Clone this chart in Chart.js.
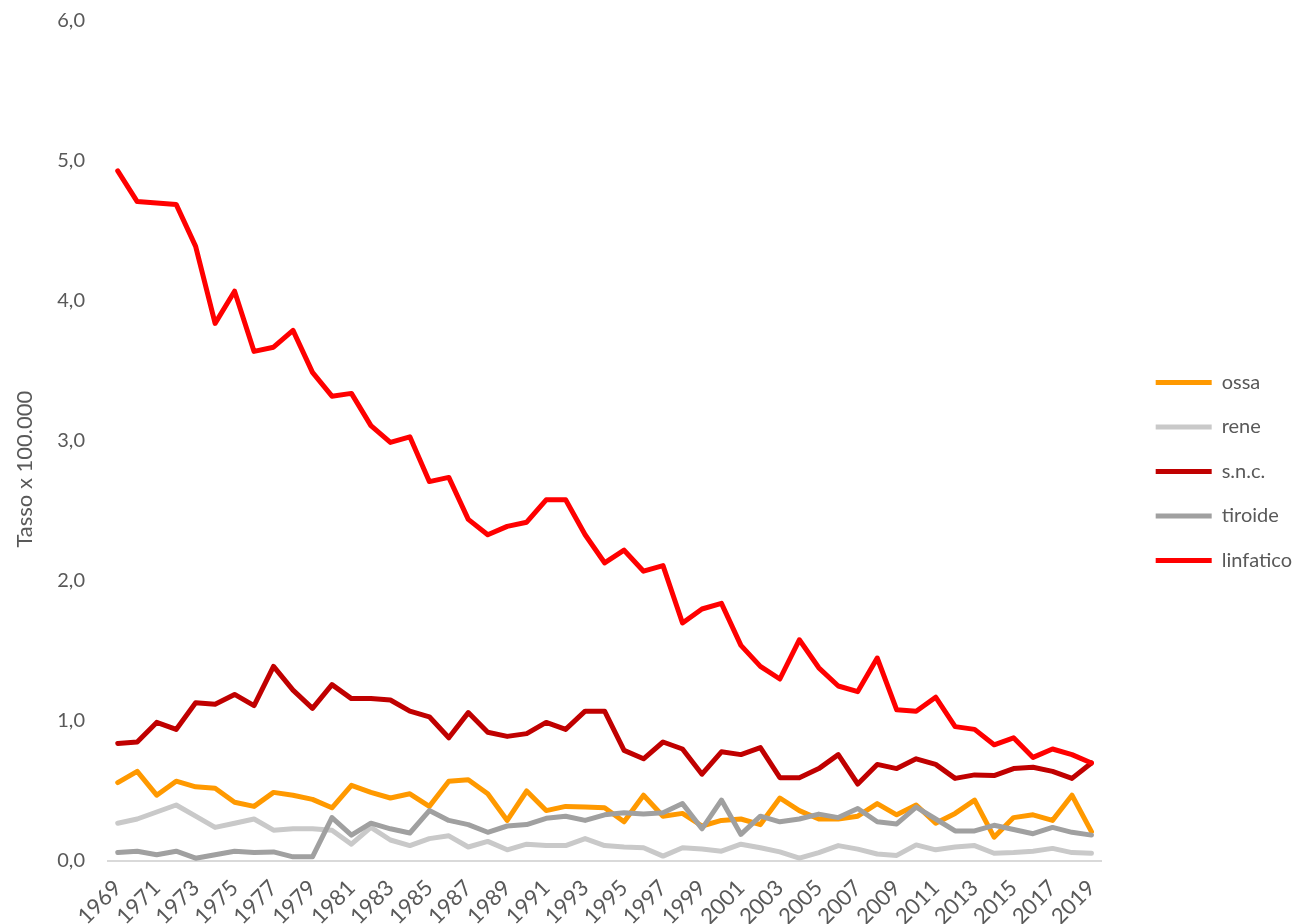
<!DOCTYPE html>
<html>
<head>
<meta charset="utf-8">
<script src="https://cdn.jsdelivr.net/npm/chart.js@4"></script>
<style>
  body { margin: 0; background: #fff; }
  #wrap { width: 1294px; height: 924px; position: relative; }
</style>
</head>
<body>
<div id="wrap"><canvas id="chart"></canvas></div>
<script>
// anni
const anni = ['1969','1970','1971','1972','1973','1974','1975','1976','1977','1978',
  '1979','1980','1981','1982','1983','1984','1985','1986','1987','1988',
  '1989','1990','1991','1992','1993','1994','1995','1996','1997','1998',
  '1999','2000','2001','2002','2003','2004','2005','2006','2007','2008',
  '2009','2010','2011','2012','2013','2014','2015','2016','2017','2018','2019'];

// tassi x 100.000
const ossa = [0.56,0.64,0.47,0.57,0.53,0.52,0.42,0.39,0.49,0.47,
  0.44,0.38,0.54,0.49,0.45,0.48,0.39,0.57,0.58,0.48,
  0.29,0.50,0.36,0.39,0.385,0.38,0.28,0.47,0.32,0.34,
  0.25,0.29,0.30,0.26,0.45,0.36,0.30,0.30,0.32,0.41,
  0.33,0.40,0.27,0.34,0.435,0.17,0.31,0.33,0.29,0.47,0.21];
const rene = [0.27,0.30,0.35,0.40,0.32,0.24,0.27,0.30,0.22,0.23,
  0.23,0.22,0.12,0.24,0.15,0.11,0.16,0.18,0.10,0.14,
  0.08,0.12,0.11,0.11,0.16,0.11,0.10,0.095,0.035,0.095,
  0.085,0.07,0.12,0.095,0.065,0.02,0.06,0.11,0.085,0.05,
  0.04,0.115,0.08,0.10,0.11,0.055,0.06,0.07,0.09,0.06,0.055];
const snc = [0.84,0.85,0.99,0.94,1.13,1.12,1.19,1.11,1.39,1.22,
  1.09,1.26,1.16,1.16,1.15,1.07,1.03,0.88,1.06,0.92,
  0.89,0.91,0.99,0.94,1.07,1.07,0.79,0.73,0.85,0.80,
  0.62,0.78,0.76,0.81,0.595,0.595,0.66,0.76,0.55,0.69,
  0.66,0.73,0.69,0.59,0.615,0.61,0.66,0.67,0.64,0.59,0.70];
const tiroide = [0.06,0.07,0.045,0.07,0.02,0.045,0.07,0.06,0.065,0.03,
  0.03,0.31,0.185,0.27,0.23,0.20,0.36,0.29,0.26,0.205,
  0.25,0.26,0.305,0.32,0.29,0.33,0.345,0.335,0.345,0.41,
  0.23,0.435,0.19,0.32,0.28,0.30,0.335,0.31,0.375,0.28,
  0.265,0.385,0.30,0.215,0.215,0.255,0.225,0.195,0.24,0.205,0.185];
const linfatico = [4.93,4.71,4.70,4.69,4.39,3.84,4.07,3.64,3.67,3.79,
  3.49,3.32,3.34,3.11,2.99,3.03,2.71,2.74,2.44,2.33,
  2.39,2.42,2.58,2.58,2.33,2.13,2.22,2.07,2.11,1.70,
  1.80,1.84,1.54,1.39,1.30,1.58,1.38,1.25,1.21,1.45,
  1.08,1.07,1.17,0.96,0.94,0.83,0.88,0.74,0.80,0.76,0.70];

const serie = [
  { nome: 'ossa', dati: ossa, colore: '#FF9900', ordine: 5 },
  { nome: 'rene', dati: rene, colore: '#C9C9C9', ordine: 4 },
  { nome: 's.n.c.', dati: snc, colore: '#C00000', ordine: 3 },
  { nome: 'tiroide', dati: tiroide, colore: '#A0A0A0', ordine: 2 },
  { nome: 'linfatico', dati: linfatico, colore: '#FF0000', ordine: 1 }
];

const grigio = '#595959';
const font = 'Lato, "Open Sans", sans-serif';
// spazi finali per abbassare un po' il titolo come nell'originale
const titoloY = 'Tasso x 100.000' + ' '.repeat(10);

new Chart(document.getElementById('chart'), {
  type: 'line',
  data: {
    labels: anni,
    datasets: serie.map(s => ({
      label: s.nome,
      data: s.dati,
      borderColor: s.colore,
      backgroundColor: s.colore,
      borderWidth: 5,
      borderCapStyle: 'round',
      borderJoinStyle: 'round',
      pointRadius: 0,
      pointStyle: 'line',
      tension: 0,
      order: s.ordine
    }))
  },
  options: {
    responsive: true,
    maintainAspectRatio: false,
    animation: false,
    layout: { padding: { left: 12, right: -8, top: 0, bottom: 0 } },
    plugins: {
      tooltip: { enabled: false },
      legend: {
        position: 'right',
        title: { display: true, text: '', font: { size: 10 }, padding: { top: 7, bottom: 0 } },
        labels: {
          usePointStyle: true,
          pointStyleWidth: 56,
          padding: 24.5,
          color: grigio,
          font: { family: font, size: 20 },
          sort: (a, b) => a.datasetIndex - b.datasetIndex
        }
      }
    },
    scales: {
      x: {
        offset: true,
        grid: { display: false, drawTicks: false },
        border: { display: true, color: '#D9D9D9', width: 2 },
        afterFit: s => { s.height = 63; },
        ticks: {
          autoSkip: false,
          maxRotation: 45,
          minRotation: 45,
          padding: 14,
          color: grigio,
          font: { family: font, size: 22 },
          callback: function(val, i) { return i % 2 === 0 ? this.getLabelForValue(val) : ''; }
        }
      },
      y: {
        min: 0,
        max: 6,
        grid: { display: false, drawTicks: false },
        border: { display: false },
        afterFit: s => { s.width = 96; s.paddingTop = 21; s.paddingBottom = 0; },
        ticks: {
          stepSize: 1,
          padding: 23,
          color: grigio,
          font: { family: font, size: 20 },
          callback: v => v.toFixed(1).replace('.', ',')
        },
        title: {
          display: true,
          text: titoloY,
          color: grigio,
          font: { family: font, size: 22 },
          padding: 0
        }
      },
      // spazio vuoto tra area del grafico e legenda
      gap: {
        type: 'linear',
        position: 'right',
        display: true,
        grid: { display: false, drawTicks: false },
        border: { display: false },
        ticks: { display: false },
        afterFit: s => { s.width = 30; }
      }
    }
  }
});
</script>
</body>
</html>
